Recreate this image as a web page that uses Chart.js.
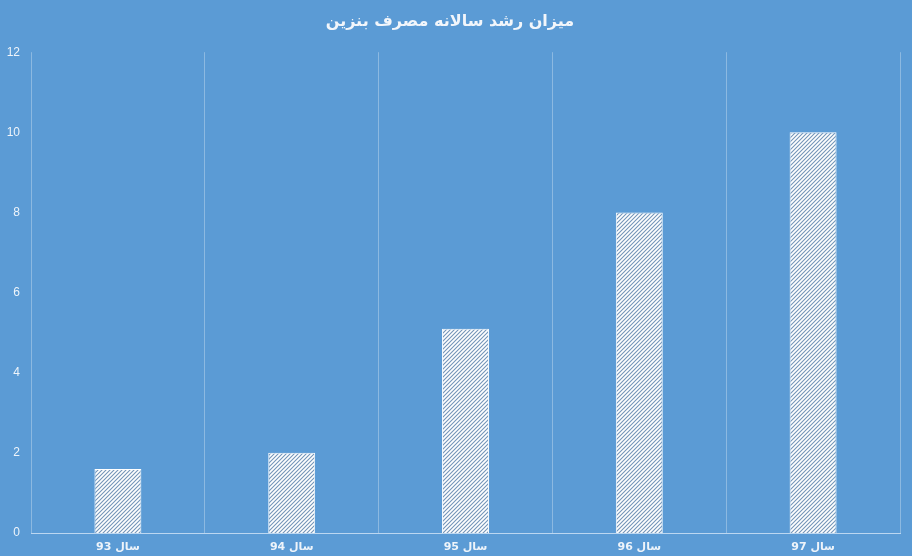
<!DOCTYPE html>
<html>
<head>
<meta charset="utf-8">
<script src="https://cdn.jsdelivr.net/npm/chart.js@4.4.1/dist/chart.umd.min.js"></script>
<style>
    html, body { margin: 0; padding: 0; background: #5b9bd5; }
    #wrap { width: 912px; height: 556px; }
</style>
</head>
<body>
<div id="wrap"><canvas id="growthChart"></canvas></div>
<script>
const chartTitle = 'میزان رشد سالانه مصرف بنزین';
const years = ['سال 93', 'سال 94', 'سال 95', 'سال 96', 'سال 97'];
const growth = [1.6, 2, 5.1, 8, 10];
const yTicks = [0, 2, 4, 6, 8, 10, 12];

function makeHatch() {
    const c = document.createElement('canvas');
    c.width = 4;
    c.height = 4;
    const g = c.getContext('2d');
    g.fillStyle = '#ffffff';
    g.fillRect(0, 0, 4, 4);
    g.strokeStyle = '#7394b8';
    g.lineWidth = 1.1;
    g.beginPath();
    g.moveTo(0, 4);
    g.lineTo(4, 0);
    g.moveTo(-1, 1);
    g.lineTo(1, -1);
    g.moveTo(3, 5);
    g.lineTo(5, 3);
    g.stroke();
    return g.createPattern(c, 'repeat');
}

const background = {
    id: 'background',
    beforeDraw(chart) {
        const ctx = chart.ctx;
        ctx.save();
        ctx.fillStyle = '#5b9bd5';
        ctx.fillRect(0, 0, chart.width, chart.height);
        ctx.restore();
    }
};

document.addEventListener('DOMContentLoaded', () => {
    const ctx = document.getElementById('growthChart').getContext('2d');

    new Chart(ctx, {
        type: 'bar',
        data: {
            labels: years,
            datasets: [{
                data: growth,
                backgroundColor: makeHatch(),
                borderColor: '#ffffff',
                borderWidth: 1,
                barPercentage: 0.27,
                categoryPercentage: 1,
            }],
        },
        options: {
            responsive: true,
            maintainAspectRatio: false,
            animation: false,
            layout: { padding: { left: 0, right: 12, top: 0, bottom: 0 } },
            plugins: {
                legend: { display: false },
                tooltip: { enabled: false },
                title: {
                    display: true,
                    text: chartTitle,
                    color: '#f2f6fb',
                    font: { family: 'DejaVu Sans', size: 16, weight: 'bold' },
                    padding: { top: 12, bottom: 21 },
                },
            },
            scales: {
                x: {
                    afterFit: (scale) => { scale.height = 23; },
                    grid: {
                        display: true,
                        offset: true,
                        color: 'rgba(255,255,255,0.3)',
                        drawTicks: false,
                    },
                    border: { display: true, color: 'rgba(220,235,250,0.75)' },
                    ticks: {
                        color: '#eef4fa',
                        font: { family: 'DejaVu Sans', size: 11, weight: 'bold' },
                        padding: 8,
                    },
                },
                y: {
                    min: 0,
                    max: 12,
                    afterBuildTicks: (scale) => {
                        scale.ticks = yTicks.map(v => ({ value: v }));
                    },
                    afterFit: (scale) => { scale.width = 31; },
                    grid: { display: false },
                    border: { display: false },
                    ticks: {
                        color: '#eef4fa',
                        font: { family: 'Liberation Sans', size: 12 },
                        padding: 3,
                    },
                },
            },
        },
        plugins: [background],
    });
});
</script>
</body>
</html>
